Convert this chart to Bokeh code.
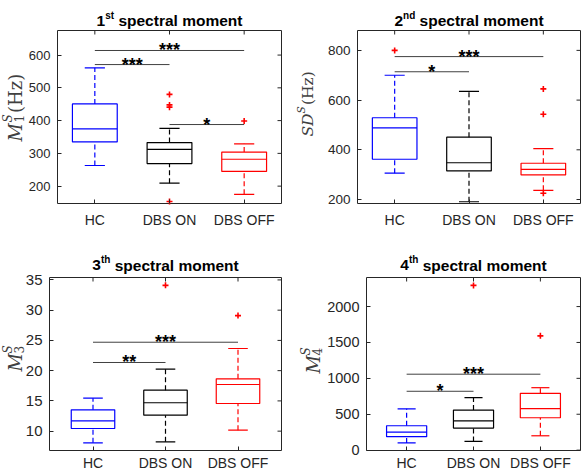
import numpy as np
from bokeh.plotting import figure
from bokeh.models import Range1d, FixedTicker, Label
from bokeh.core.properties import value
from bokeh.layouts import gridplot
from bokeh.embed import file_html
from bokeh.resources import INLINE

# ---------------- data ----------------
groups = ["HC", "DBS ON", "DBS OFF"]
group_pos = [1, 2, 3]
colors = ["#0000FF", "#000000", "#FF0000"]

# 1st spectral moment M1^S (Hz)
m1_lo = [263, 209, 175]
m1_q1 = [335, 269, 245]
m1_med = [375, 312, 282]
m1_q3 = [451, 333, 304]
m1_hi = [561, 376, 329]
m1_out_g = [2, 2, 2, 2, 3]
m1_out_v = [480, 448, 441, 153, 399]
m1_sig_a = [1, 1, 2]
m1_sig_b = [3, 2, 3]
m1_sig_y = [614, 571, 388]
m1_sig_t = ["***", "***", "*"]
m1_ticks = [200, 300, 400, 500, 600]

# 2nd spectral moment SD^S (Hz)
m2_lo = [306, 191, 237]
m2_q1 = [362, 315, 299]
m2_med = [488, 348, 321]
m2_q3 = [529, 451, 346]
m2_hi = [700, 635, 405]
m2_out_g = [1, 3, 3, 3]
m2_out_v = [800, 645, 543, 225]
m2_sig_a = [1, 1]
m2_sig_b = [3, 2]
m2_sig_y = [775, 714]
m2_sig_t = ["***", "*"]
m2_ticks = [200, 400, 600, 800]

# 3th spectral moment M3^S
m3_lo = [8.07, 8.24, 10.16]
m3_q1 = [10.44, 12.64, 14.57]
m3_med = [11.71, 14.69, 17.71]
m3_q3 = [13.53, 16.77, 18.65]
m3_hi = [15.45, 20.25, 23.66]
m3_out_g = [2, 3]
m3_out_v = [34.1, 29.1]
m3_sig_a = [1, 1]
m3_sig_b = [3, 2]
m3_sig_y = [24.7, 21.35]
m3_sig_t = ["***", "**"]
m3_ticks = [10, 15, 20, 25, 30, 35]

# 4th spectral moment M4^S
m4_lo = [100, 122, 200]
m4_q1 = [188, 307, 451]
m4_med = [252, 409, 577]
m4_q3 = [340, 558, 792]
m4_hi = [575, 732, 870]
m4_out_g = [2, 3]
m4_out_v = [2295, 1592]
m4_sig_a = [1, 1]
m4_sig_b = [3, 2]
m4_sig_y = [1058, 820]
m4_sig_t = ["***", "*"]
m4_ticks = [0, 500, 1000, 1500, 2000]

# ---------------- style ----------------
TXT = "#262626"
BOX_W = 0.6
CAP_W = 0.27
TICK_LEN = 4  # px


def make_panel(width, height, bl, br, bt, bb, xr, yr, page_left, page_top,
               stats, out_g, out_v, sig_a, sig_b, sig_y, sig_t, ticks,
               tick_fs, xstand, num, sup, title_base, ylab_pieces):
    # axes box occupies [bl, width-br] x [bt, height-bb] of the canvas;
    # the frame covers the whole canvas and the axes are pinned to the box.
    bw = width - bl - br
    bh = height - bt - bb
    xpp = (xr[1] - xr[0]) / bw   # data per px
    ypp = (yr[1] - yr[0]) / bh
    p = figure(width=width, height=height, output_backend="svg",
               toolbar_location=None, min_border=0,
               min_border_left=0, min_border_right=0,
               min_border_top=0, min_border_bottom=0,
               x_range=Range1d(xr[0] - bl * xpp, xr[1] + br * xpp),
               y_range=Range1d(yr[0] - bb * ypp, yr[1] + bt * ypp))
    p.title.visible = False
    p.xgrid.visible = False
    p.ygrid.visible = False
    p.outline_line_color = None

    fl = page_left + bl
    ft = page_top + bt

    def dx(px):
        return xr[0] + (px - fl) * xpp

    def dy(py):
        return yr[1] - (py - ft) * ypp

    xa = p.xaxis[0]
    xa.fixed_location = yr[0]
    xa.ticker = FixedTicker(ticks=group_pos)
    xa.major_label_overrides = {i: g for i, g in zip(group_pos, groups)}
    xa.major_label_text_font = "Liberation Sans"
    xa.major_label_text_font_size = "14px"
    xa.major_label_text_color = TXT
    xa.major_label_standoff = xstand
    ya = p.yaxis[0]
    ya.fixed_location = xr[0]
    ya.ticker = FixedTicker(ticks=ticks)
    ya.major_label_text_font = "Liberation Sans"
    ya.major_label_text_font_size = tick_fs
    ya.major_label_text_color = TXT
    ya.major_label_standoff = 7
    for ax in (xa, ya):
        ax.axis_line_color = None
        ax.major_tick_in = TICK_LEN
        ax.major_tick_out = 0
        ax.minor_tick_line_color = None
        ax.major_tick_line_color = TXT

    # axes box and mirror ticks on top and right edges (inward)
    p.quad(left=[xr[0]], right=[xr[1]], bottom=[yr[0]], top=[yr[1]],
           fill_color=None, line_color=TXT, line_width=1)
    p.segment(x0=group_pos, y0=[yr[1]] * 3, x1=group_pos, y1=[yr[1] - TICK_LEN * ypp] * 3,
              line_color=TXT, line_width=1)
    p.segment(x0=[xr[1]] * len(ticks), y0=ticks, x1=[xr[1] - TICK_LEN * xpp] * len(ticks),
              y1=ticks, line_color=TXT, line_width=1)

    lo, q1, med, q3, hi = stats
    x = np.array(group_pos, dtype=float)
    lw = 1.2
    p.segment(x0=x, y0=q3, x1=x, y1=hi, line_color=colors, line_dash="5 3", line_width=lw)
    p.segment(x0=x, y0=lo, x1=x, y1=q1, line_color=colors, line_dash="5 3", line_width=lw)
    p.segment(x0=x - CAP_W / 2, y0=hi, x1=x + CAP_W / 2, y1=hi, line_color=colors, line_width=lw)
    p.segment(x0=x - CAP_W / 2, y0=lo, x1=x + CAP_W / 2, y1=lo, line_color=colors, line_width=lw)
    p.quad(left=x - BOX_W / 2, right=x + BOX_W / 2, bottom=q1, top=q3,
           fill_color=None, line_color=colors, line_width=lw)
    p.segment(x0=x - BOX_W / 2, y0=med, x1=x + BOX_W / 2, y1=med, line_color=colors, line_width=lw)
    p.scatter(x=out_g, y=out_v, marker="cross", size=6, line_color="#FF0000", line_width=1.6)

    p.segment(x0=sig_a, y0=sig_y, x1=sig_b, y1=sig_y, line_color="#404040", line_width=1)
    mid = [(a + b) / 2 for a, b in zip(sig_a, sig_b)]
    p.text(x=mid, y=sig_y, text=sig_t, text_align="center", text_baseline="middle",
           text_font_size="18px", text_font_style="bold", text_color="black",
           text_font=value("Liberation Sans"))

    # title: number + superscript + text, centred over the axes box
    F, f = 15.5, 10.0
    sup_w = {"st": 0.889, "nd": 1.222, "th": 0.944}[sup] * f
    space = 0.278 * F
    W = 0.556 * F + sup_w + space + 8.0 * F
    cx = fl + bw / 2
    xm = cx - W / 2 + 0.556 * F + sup_w
    common = dict(text_font="Liberation Sans", text_font_style="bold",
                  text_color="black", text_baseline="alphabetic")
    p.add_layout(Label(x=dx(xm + space), y=dy(title_base), text="spectral moment",
                       text_font_size=f"{F}px", text_align="left", **common))
    p.add_layout(Label(x=dx(xm), y=dy(title_base - 5.5), text=sup,
                       text_font_size=f"{f}px", text_align="right", **common))
    p.add_layout(Label(x=dx(xm - sup_w), y=dy(title_base), text=num,
                       text_font_size=f"{F}px", text_align="right", **common))

    for txt, style, size, xp, yp in ylab_pieces:
        p.add_layout(Label(x=dx(xp), y=dy(yp), text=txt, angle=np.pi / 2,
                           text_font="DejaVu Serif", text_font_style=style,
                           text_font_size=f"{size}px", text_color="#404040",
                           text_align="left", text_baseline="alphabetic"))
    return p


def ylab(base_x, start_y, main, tail, sub, sup_s, fs=16, fs2=11, main_w=1.0):
    pieces = []
    y = start_y
    pieces.append((main, "italic", fs, base_x, y))
    y -= main_w * fs
    pieces.append((sup_s, "italic", fs2, base_x - 0.42 * fs, y))
    if sub:
        pieces.append((sub, "normal", fs2, base_x + 0.22 * fs, y))
    y -= 0.72 * fs2 + 1
    if tail:
        pieces.append((tail, "normal", fs, base_x, y))
    return pieces


p1 = make_panel(290, 240, 57, 9, 30, 37, (0.5, 3.5), (147, 675), 0, 0,
                (m1_lo, m1_q1, m1_med, m1_q3, m1_hi), m1_out_g, m1_out_v,
                m1_sig_a, m1_sig_b, m1_sig_y, m1_sig_t, m1_ticks, "13px", 8,
                "1", "st", 20, ylab(15, 141, "M", "(Hz)", "1", "S", fs=18, fs2=12, main_w=1.05))
p2 = make_panel(291, 240, 67, 1, 30, 37, (0.5, 3.5), (184, 880), 290, 0,
                (m2_lo, m2_q1, m2_med, m2_q3, m2_hi), m2_out_g, m2_out_v,
                m2_sig_a, m2_sig_b, m2_sig_y, m2_sig_t, m2_ticks, "13.5px", 8,
                "2", "nd", 20, ylab(307, 136, "SD", "(Hz)", None, "S", fs=15.5, fs2=10.5, main_w=1.48))
p3 = make_panel(290, 234, 49, 9, 37, 24, (0.4, 3.6), (6.8, 35.4), 0, 240,
                (m3_lo, m3_q1, m3_med, m3_q3, m3_hi), m3_out_g, m3_out_v,
                m3_sig_a, m3_sig_b, m3_sig_y, m3_sig_t, m3_ticks, "15px", 4,
                "3", "th", 264.5, ylab(15, 371, "M", None, "3", "S", fs=18, fs2=12))
p4 = make_panel(291, 234, 76, 1, 37, 24, (0.4, 3.6), (-5, 2405), 290, 240,
                (m4_lo, m4_q1, m4_med, m4_q3, m4_hi), m4_out_g, m4_out_v,
                m4_sig_a, m4_sig_b, m4_sig_y, m4_sig_t, m4_ticks, "14.5px", 4,
                "4", "th", 264.5, ylab(313, 373, "M", None, "4", "S", fs=18, fs2=12))

grid = gridplot([[p1, p2], [p3, p4]], toolbar_location=None)
open("out.html", "w").write(file_html(grid, INLINE))
